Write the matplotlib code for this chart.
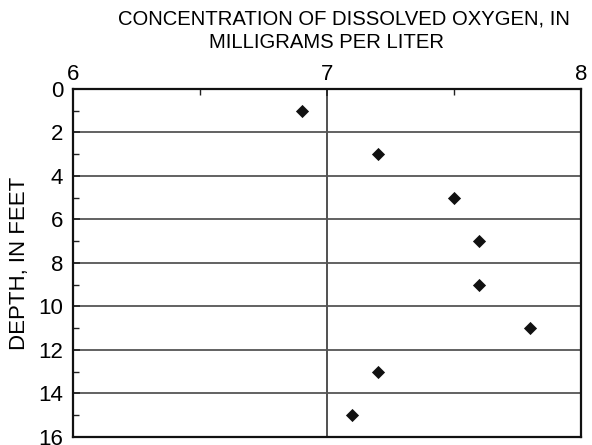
import matplotlib.pyplot as plt
from matplotlib.ticker import MultipleLocator

plt.rcParams['font.family'] = ['Liberation Sans', 'DejaVu Sans']

# Perfil de oxígeno disuelto
oxigeno = [6.9, 7.2, 7.5, 7.6, 7.6, 7.8, 7.2, 7.1]
profundidad = [1, 3, 5, 7, 9, 11, 13, 15]

fig = plt.figure(figsize=(5.92, 4.45), dpi=100)
ax = fig.add_axes([0.1233, 0.018, 0.858, 0.782])

ax.scatter(oxigeno, profundidad, marker='D', s=45, color='#111111', zorder=3, linewidths=0)

ax.set_xlim(6, 8)
ax.set_ylim(16, 0)
ax.xaxis.set_major_locator(MultipleLocator(1))
ax.xaxis.set_minor_locator(MultipleLocator(0.5))
ax.yaxis.set_major_locator(MultipleLocator(2))
ax.yaxis.set_minor_locator(MultipleLocator(1))
ax.xaxis.tick_top()

ax.tick_params(which='both', direction='in', labelsize=16, color='#222222')
ax.tick_params(which='major', length=5, width=1.2)
ax.tick_params(which='minor', length=4, width=1)
ax.tick_params(axis='x', pad=3)
ax.tick_params(axis='y', pad=7)

# Líneas guía
ax.grid(True, which='major', axis='y', color='#555555', linewidth=1.3)
ax.grid(True, which='major', axis='x', color='#222222', linewidth=1.1)
ax.set_axisbelow(True)

for lado in ax.spines.values():
    lado.set_linewidth(1.6)
    lado.set_color('#111111')

ax.set_ylabel('DEPTH, IN FEET', fontsize=16, labelpad=6)

# Título del eje superior en dos renglones
fig.text(0.581, 0.978, 'CONCENTRATION OF DISSOLVED OXYGEN, IN',
         ha='center', va='top', fontsize=14.6)
fig.text(0.551, 0.926, 'MILLIGRAMS PER LITER',
         ha='center', va='top', fontsize=14.6)

fig.savefig('out.png', dpi=100)
